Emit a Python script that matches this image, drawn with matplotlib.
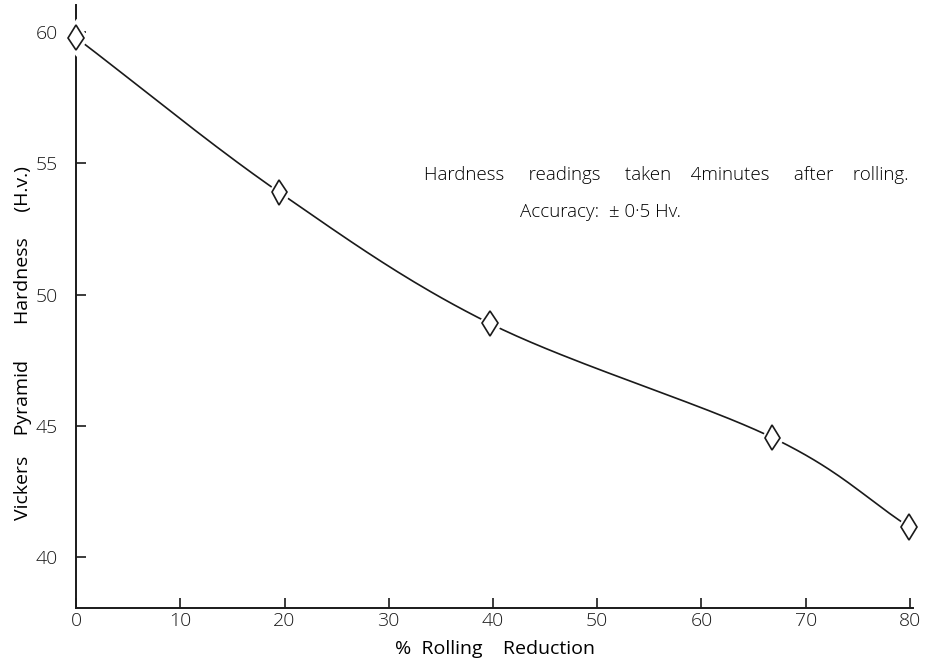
import numpy as np
import matplotlib
matplotlib.use("Agg")
import matplotlib.pyplot as plt
import matplotlib.patheffects as pe

# values
reduction = [0, 19.5, 39.7, 66.8, 79.9]
hardness = [59.8, 53.9, 48.9, 44.55, 41.15]
x_ticks = [0, 10, 20, 30, 40, 50, 60, 70, 80]
y_ticks = [40, 45, 50, 55, 60]

plt.rcParams['font.family'] = ['Open Sans', 'DejaVu Sans']
plt.rcParams['font.weight'] = 'light'


def smooth(xs, ys, n=40):
    # catmull-rom curve through the measured points, for drawing only
    px = [2 * xs[0] - xs[1]] + list(xs) + [2 * xs[-1] - xs[-2]]
    py = [2 * ys[0] - ys[1]] + list(ys) + [2 * ys[-1] - ys[-2]]
    out_x, out_y = [], []
    for i in range(1, len(px) - 2):
        t = np.linspace(0, 1, n)
        for arr, out in ((px, out_x), (py, out_y)):
            p0, p1, p2, p3 = arr[i - 1], arr[i], arr[i + 1], arr[i + 2]
            out.extend(0.5 * (2 * p1 + (-p0 + p2) * t
                              + (2 * p0 - 5 * p1 + 4 * p2 - p3) * t ** 2
                              + (-p0 + 3 * p1 - 3 * p2 + p3) * t ** 3))
    return out_x, out_y


fig = plt.figure(figsize=(9.27, 6.65), dpi=100)
ax = fig.add_axes([0.082, 0.086, 0.903, 0.906])

cx, cy = smooth(reduction, hardness)
ax.plot(cx, cy, color='#1a1a1a', lw=1.2, zorder=2)
ax.plot(reduction, hardness, linestyle='none', marker='d', ms=13,
        mfc='white', mec='#1a1a1a', mew=1.2, clip_on=False, zorder=3,
        path_effects=[pe.withStroke(linewidth=5, foreground='white')])
ax.set_xlim(0, 80.3)
ax.set_ylim(38.06, 61.03)

ax.set_xticks(x_ticks)
ax.set_yticks(y_ticks)
ax.tick_params(direction='in', length=7, width=1.2, colors='#1a1a1a',
               labelsize=14, pad=3)
ax.tick_params(axis='y', pad=13)
for s in ('top', 'right'):
    ax.spines[s].set_visible(False)
for s in ('left', 'bottom'):
    ax.spines[s].set_linewidth(1.4)
    ax.spines[s].set_color('#1a1a1a')

ax.set_xlabel('%  Rolling    Reduction', fontsize=14, labelpad=7)
ax.set_ylabel('Vickers    Pyramid       Hardness     (H.v.)', fontsize=14)
ax.yaxis.set_label_coords(-0.052, 0.44)

fig.text(0.457, 0.73, 'Hardness     readings     taken    4minutes     after    rolling.',
         fontsize=13.5, ha='left', va='baseline')
fig.text(0.561, 0.673, 'Accuracy:  ± 0·5 Hv.',
         fontsize=13.5, ha='left', va='baseline')

fig.savefig('out.png', dpi=100)
